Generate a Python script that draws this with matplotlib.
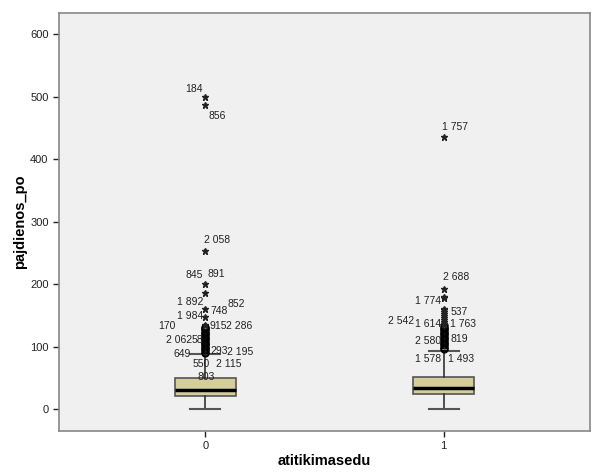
import matplotlib.pyplot as plt

plt.rcParams['font.family'] = ['Liberation Sans', 'DejaVu Sans']

groups = [0, 1]
q1 = [21, 24.5]
med = [31, 34]
q3 = [50, 51.5]
whislo = [0, 0]
whishi = [88, 93]

# mild outliers (circles) and extreme outliers (stars)
circles_0 = [90, 92, 94, 96, 98, 100, 102, 104, 106, 108, 110, 112, 114, 116,
             118, 120, 122, 124, 126, 128, 130, 132]
stars_0 = [134, 147, 161, 186, 200, 253, 486, 500]
circles_1 = [96, 98, 100, 102, 104, 106, 108, 110, 112, 114, 116, 118, 120,
             122, 124, 126, 128, 130, 132, 134]
stars_1 = [137, 140, 143, 146, 149, 152, 155, 158, 161, 178, 180, 193, 435]

# case labels: text, group, y position, x offset (px)
lab_text = ['184', '856', '2 058', '845', '891', '1 892', '852', '748', '1 984',
            '170', '915', '2 286', '2 062', '58', '649', '293', '2 195', '550',
            '2 115', '803',
            '1 757', '2 688', '1 774', '537', '2 542', '1 614', '1 763', '2 580',
            '819', '1 578', '1 493']
lab_group = [0] * 20 + [1] * 11
lab_y = [512, 469, 271, 214, 217, 171, 168, 157, 149, 133, 133, 133, 111, 111,
         88, 93, 91, 72, 72, 51,
         452, 211, 173, 156, 141, 136, 136, 109, 112, 80, 80]
lab_dx = [-20, 3, -1, -20, 2, -28, 22, 5, -28, -47, 4, 21, -39, -14, -32, 5, 22,
          -13, 11, -8,
          -2, -1, -29, 7, -56, -29, 6, -29, 7, -29, 4]

fig = plt.figure(figsize=(6.01, 4.76), dpi=100)
ax = fig.add_axes([59 / 601, 45 / 476, 531 / 601, 418 / 476])
ax.set_facecolor('#F0F0F0')

stats = []
for i in range(len(groups)):
    stats.append({'q1': q1[i], 'med': med[i], 'q3': q3[i],
                  'whislo': whislo[i], 'whishi': whishi[i], 'fliers': []})

ax.bxp(stats, positions=groups, widths=0.255, patch_artist=True, showfliers=False,
       boxprops=dict(facecolor='#D4CF9A', edgecolor='#555555', linewidth=1.2),
       medianprops=dict(color='black', linewidth=2.5),
       whiskerprops=dict(color='#333333', linewidth=1.2),
       capprops=dict(color='#555555', linewidth=1.5),
       capwidths=0.126)

for g, circ, st in [(0, circles_0, stars_0), (1, circles_1, stars_1)]:
    ax.plot([g] * len(circ), circ, 'o', mfc='none', mec='black', ms=5, mew=0.9)
    ax.plot([g] * len(st), st, '*', color='#222222', ms=5)

for t, g, y, dx in zip(lab_text, lab_group, lab_y, lab_dx):
    ax.annotate(t, xy=(g, y), xytext=(dx * 0.72, 0), textcoords='offset points',
                ha='left', va='center', fontsize=7.5, color='#222222')

ax.set_xlim(-0.615, 1.615)
ax.set_ylim(-35, 634)
ax.set_xticks(groups)
ax.set_xticklabels(['0', '1'])
ax.set_yticks([0, 100, 200, 300, 400, 500, 600])
ax.tick_params(labelsize=8, length=4, colors='#222222', width=1)

for s in ax.spines.values():
    s.set_color('#888888')
    s.set_linewidth(1.2)

ax.set_xlabel('atitikimasedu', fontsize=10.5, fontweight='bold', labelpad=2)
ax.set_ylabel('pajdienos_po', fontsize=10.5, fontweight='bold', labelpad=2)

fig.savefig('out.png', dpi=100, facecolor='white')
